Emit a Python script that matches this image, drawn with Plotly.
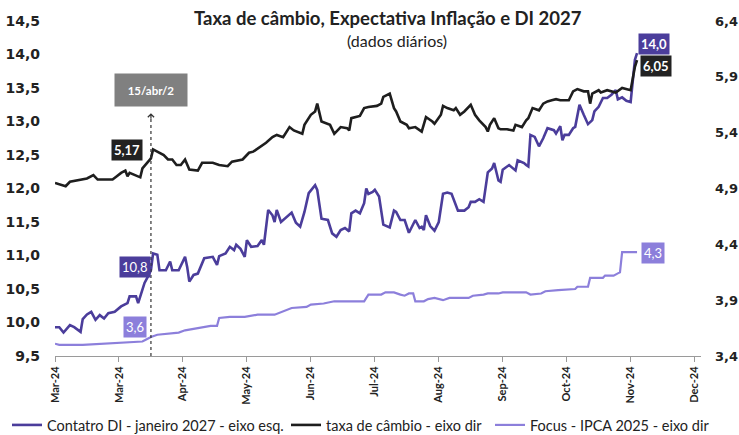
import plotly.graph_objects as go

# ---------------- data ----------------
fx_dates = ["2024-03-01","2024-03-03","2024-03-06","2024-03-08","2024-03-11","2024-03-14","2024-03-16","2024-03-19","2024-03-21","2024-03-24","2024-03-28","2024-03-30","2024-04-01","2024-04-03","2024-04-04","2024-04-05","2024-04-08","2024-04-10","2024-04-11","2024-04-13","2024-04-15","2024-04-16","2024-04-18","2024-04-21","2024-04-23","2024-04-25","2024-04-27","2024-04-29","2024-05-01","2024-05-03","2024-05-07","2024-05-09","2024-05-14","2024-05-17","2024-05-21","2024-05-23","2024-05-28","2024-05-31","2024-06-02","2024-06-05","2024-06-08","2024-06-11","2024-06-13","2024-06-16","2024-06-19","2024-06-21","2024-06-25","2024-06-26","2024-06-29","2024-07-01","2024-07-02","2024-07-04","2024-07-08","2024-07-10","2024-07-13","2024-07-16","2024-07-17","2024-07-18","2024-07-20","2024-07-22","2024-07-24","2024-07-26","2024-07-30","2024-08-01","2024-08-02","2024-08-05","2024-08-07","2024-08-08","2024-08-10","2024-08-13","2024-08-14","2024-08-17","2024-08-20","2024-08-22","2024-08-25","2024-08-26","2024-08-29","2024-08-30","2024-09-01","2024-09-04","2024-09-05","2024-09-07","2024-09-09","2024-09-12","2024-09-14","2024-09-16","2024-09-19","2024-09-20","2024-09-21","2024-09-23","2024-09-25","2024-09-26","2024-09-29","2024-10-02","2024-10-03","2024-10-06","2024-10-08","2024-10-09","2024-10-11","2024-10-14","2024-10-16","2024-10-18","2024-10-20","2024-10-22","2024-10-24","2024-10-26","2024-10-28","2024-10-30","2024-11-01","2024-11-04","2024-11-06","2024-11-07","2024-11-08","2024-11-11","2024-11-12","2024-11-15","2024-11-17","2024-11-19","2024-11-22","2024-11-24","2024-11-26","2024-11-28","2024-11-29"]
fx_values = [4.95,4.94,4.92,4.96,4.97,4.98,4.99,5.02,4.98,4.98,4.98,5.01,5.04,5.06,5.01,5.04,5.02,5.00,5.08,5.13,5.17,5.25,5.23,5.20,5.16,5.16,5.11,5.11,5.16,5.07,5.06,5.13,5.13,5.11,5.10,5.14,5.16,5.22,5.23,5.27,5.31,5.36,5.38,5.36,5.45,5.42,5.39,5.47,5.56,5.59,5.66,5.50,5.47,5.39,5.45,5.44,5.42,5.53,5.54,5.55,5.62,5.63,5.64,5.66,5.72,5.75,5.62,5.59,5.50,5.47,5.44,5.45,5.41,5.54,5.50,5.48,5.56,5.64,5.62,5.60,5.62,5.56,5.59,5.65,5.56,5.51,5.45,5.41,5.47,5.53,5.44,5.43,5.43,5.42,5.47,5.45,5.51,5.53,5.62,5.60,5.66,5.68,5.69,5.70,5.69,5.69,5.69,5.77,5.79,5.77,5.77,5.66,5.75,5.78,5.76,5.78,5.77,5.76,5.80,5.79,5.78,5.99,6.05]

di_dates = ["2024-03-01","2024-03-03","2024-03-05","2024-03-08","2024-03-10","2024-03-13","2024-03-14","2024-03-16","2024-03-18","2024-03-20","2024-03-22","2024-03-24","2024-03-26","2024-03-29","2024-04-01","2024-04-04","2024-04-05","2024-04-08","2024-04-09","2024-04-11","2024-04-12","2024-04-14","2024-04-15","2024-04-16","2024-04-18","2024-04-19","2024-04-22","2024-04-24","2024-04-25","2024-04-28","2024-05-01","2024-05-02","2024-05-03","2024-05-05","2024-05-07","2024-05-10","2024-05-14","2024-05-16","2024-05-17","2024-05-20","2024-05-22","2024-05-24","2024-05-25","2024-05-27","2024-05-29","2024-05-30","2024-06-01","2024-06-04","2024-06-06","2024-06-07","2024-06-09","2024-06-11","2024-06-12","2024-06-13","2024-06-15","2024-06-20","2024-06-22","2024-06-24","2024-06-26","2024-06-28","2024-07-01","2024-07-02","2024-07-04","2024-07-07","2024-07-09","2024-07-11","2024-07-13","2024-07-15","2024-07-17","2024-07-18","2024-07-20","2024-07-22","2024-07-24","2024-07-25","2024-07-26","2024-07-28","2024-07-29","2024-07-31","2024-08-02","2024-08-05","2024-08-07","2024-08-08","2024-08-10","2024-08-12","2024-08-14","2024-08-17","2024-08-19","2024-08-20","2024-08-21","2024-08-22","2024-08-24","2024-08-26","2024-08-28","2024-08-30","2024-09-01","2024-09-03","2024-09-05","2024-09-06","2024-09-09","2024-09-11","2024-09-12","2024-09-14","2024-09-16","2024-09-18","2024-09-20","2024-09-22","2024-09-23","2024-09-25","2024-09-26","2024-09-27","2024-09-30","2024-10-03","2024-10-04","2024-10-07","2024-10-08","2024-10-09","2024-10-10","2024-10-12","2024-10-14","2024-10-16","2024-10-18","2024-10-21","2024-10-22","2024-10-24","2024-10-25","2024-10-26","2024-10-28","2024-10-30","2024-10-31","2024-11-02","2024-11-04","2024-11-06","2024-11-08","2024-11-09","2024-11-11","2024-11-13","2024-11-15","2024-11-17","2024-11-19","2024-11-20","2024-11-22","2024-11-24","2024-11-26","2024-11-28","2024-11-29"]
di_values = [9.93,9.93,9.85,9.96,9.93,9.86,10.05,10.12,10.16,10.04,10.11,10.06,10.14,10.16,10.24,10.29,10.39,10.39,10.29,10.49,10.59,10.71,10.78,11.03,11.01,10.78,10.78,10.91,10.78,10.78,10.98,10.83,10.61,10.71,10.73,10.96,10.98,10.86,10.99,11.03,11.13,11.08,11.16,11.10,10.98,11.23,11.13,11.14,11.23,11.16,11.68,11.60,11.50,11.68,11.50,11.64,11.49,11.43,11.65,11.93,12.05,11.98,11.55,11.53,11.33,11.28,11.38,11.41,11.36,11.63,11.67,11.63,11.78,12.00,11.92,11.95,11.98,11.88,11.46,11.42,11.67,11.65,11.53,11.53,11.34,11.53,11.41,11.43,11.38,11.60,11.44,11.37,11.50,11.92,11.94,11.92,11.73,11.67,11.67,11.72,11.80,11.80,11.84,11.80,12.24,12.30,12.38,12.12,12.10,12.28,12.35,12.27,12.42,12.38,12.35,12.33,12.80,12.77,12.63,12.75,12.90,12.87,12.82,12.93,12.72,12.80,12.80,12.90,12.92,13.25,13.10,12.96,13.02,13.15,13.22,13.35,13.35,13.40,13.47,13.33,13.36,13.31,13.29,13.92,14.02]

focus_dates = ["2024-03-01","2024-03-03","2024-03-14","2024-03-22","2024-03-30","2024-04-07","2024-04-11","2024-04-13","2024-04-15","2024-04-18","2024-04-25","2024-04-28","2024-05-01","2024-05-07","2024-05-13","2024-05-16","2024-05-17","2024-05-22","2024-05-29","2024-06-04","2024-06-12","2024-06-20","2024-06-27","2024-06-29","2024-07-05","2024-07-10","2024-07-24","2024-07-26","2024-08-01","2024-08-03","2024-08-07","2024-08-10","2024-08-12","2024-08-14","2024-08-16","2024-08-17","2024-08-21","2024-08-23","2024-08-26","2024-08-30","2024-09-02","2024-09-11","2024-09-13","2024-09-18","2024-09-20","2024-09-25","2024-09-27","2024-10-08","2024-10-10","2024-10-15","2024-10-17","2024-10-23","2024-10-31","2024-11-01","2024-11-06","2024-11-07","2024-11-13","2024-11-14","2024-11-18","2024-11-20","2024-11-21","2024-11-22","2024-11-29"]
focus_values = [3.51,3.50,3.50,3.51,3.52,3.53,3.53,3.55,3.57,3.59,3.60,3.61,3.63,3.65,3.67,3.67,3.74,3.75,3.75,3.77,3.77,3.83,3.84,3.86,3.87,3.89,3.89,3.95,3.95,3.97,3.97,3.95,3.94,3.96,3.96,3.89,3.89,3.91,3.92,3.90,3.92,3.92,3.94,3.95,3.96,3.96,3.97,3.97,3.95,3.96,3.98,3.99,4.00,4.02,4.02,4.10,4.10,4.12,4.12,4.14,4.15,4.33,4.33]

series_names = ["Contatro DI - janeiro 2027 - eixo esq.", "taxa de câmbio - eixo dir", "Focus - IPCA 2025 - eixo dir"]
left_ticks = [9.5, 10.0, 10.5, 11.0, 11.5, 12.0, 12.5, 13.0, 13.5, 14.0, 14.5]
right_ticks = [3.4, 3.9, 4.4, 4.9, 5.4, 5.9, 6.4]
event_date = "2024-04-15"
event_label = "15/abr/2"

# ---------------- styling ----------------
FONT = "Lato"
TICKFONT = "DejaVu Sans"
C_DI = "#4B3D9B"
C_FX = "#1E1E1E"
C_FOCUS = "#8C7FDB"
C_TXT = "#222222"
W, H = 739, 435

fig = go.Figure()
fig.add_trace(go.Scatter(x=di_dates, y=di_values, name=series_names[0], mode="lines",
                         line=dict(color=C_DI, width=2.6), yaxis="y", legend="legend"))
fig.add_trace(go.Scatter(x=fx_dates, y=fx_values, name=series_names[1], mode="lines",
                         line=dict(color=C_FX, width=2.6), yaxis="y2", legend="legend2"))
fig.add_trace(go.Scatter(x=focus_dates, y=focus_values, name=series_names[2], mode="lines",
                         line=dict(color=C_FOCUS, width=2.2), yaxis="y2", legend="legend3"))

# dotted event line + arrow head
fig.add_shape(type="line", xref="x", yref="paper", x0=event_date, x1=event_date, y0=0, y1=0.722,
              line=dict(color="#333333", width=1.2, dash="dot"))
fig.add_annotation(xref="x", yref="paper", x=event_date, y=0.725, text="", showarrow=True,
                   ax=0, ay=7, arrowhead=4, arrowsize=1, arrowwidth=1.2, arrowcolor="#333333")
fig.add_annotation(xref="x", yref="paper", x=event_date, y=(356 - 90) / 335, text="<b>" + event_label + "</b>",
                   showarrow=False, bgcolor="#808080", xanchor="center", yanchor="middle",
                   font=dict(family=FONT, size=11.5, color="white"),
                   width=66, height=26, borderpad=3)

def lab(x, y, yref, text, color, dx, dy, bold):
    t = "<b>" + text + "</b>" if bold else text
    fig.add_annotation(xref="x", yref=yref, x=x, y=y, text=t, showarrow=False,
                       xanchor="center", yanchor="middle",
                       xshift=dx, yshift=dy, bgcolor=color, borderpad=2,
                       font=dict(family=FONT, size=13, color="white"))

lab(event_date, fx_values[fx_dates.index(event_date)], "y2", "5,17", "#222222", -24, 8, True)
lab(event_date, di_values[di_dates.index(event_date)], "y", "10,8", C_DI, -16, 3, False)
lab(event_date, focus_values[focus_dates.index(event_date)], "y2", "3,6", C_FOCUS, -16, 10, False)
lab(di_dates[-1], di_values[-1], "y", "14,0", C_DI, 17, 9, True)
lab(fx_dates[-1], fx_values[-1], "y2", "6,05", "#222222", 19, -6, True)
lab(focus_dates[-1], focus_values[-1], "y2", "4,3", C_FOCUS, 16, -1, False)

# title
fig.add_annotation(xref="paper", yref="paper", x=0.515, y=(356 - 18) / 335, yanchor="middle",
                   xanchor="center",
                   text="<b>Taxa de câmbio, Expectativa Inflação e DI 2027</b>", showarrow=False,
                   font=dict(family=FONT, size=18.5, color=C_TXT))
fig.add_annotation(xref="paper", yref="paper", x=0.529, y=(356 - 40) / 335, yanchor="middle",
                   xanchor="center",
                   text="(dados diários)", showarrow=False,
                   font=dict(family=FONT, size=16, color=C_TXT))

def leg(xpx):
    return dict(orientation="h", xref="container", yref="container", x=xpx / W, y=(H - 425) / H,
                xanchor="left", yanchor="middle", font=dict(family=FONT, size=14.5, color=C_TXT),
                bgcolor="rgba(0,0,0,0)", itemwidth=30)

fig.update_layout(
    width=W, height=H,
    margin=dict(l=55, r=38, t=21, b=79, autoexpand=False),
    paper_bgcolor="white", plot_bgcolor="white",
    separators=",.",
    font=dict(family=FONT, color=C_TXT),
    showlegend=True,
    legend=leg(7), legend2=leg(286), legend3=leg(490),
    xaxis=dict(type="date", range=["2024-03-01", "2024-12-29"], tick0="2024-03-01",
               dtick=30 * 86400000, tickformat="%b-%y", tickangle=-90, automargin=False,
               showgrid=False, zeroline=False, showline=True, linecolor="#9a9a9a", linewidth=1,
               ticks="outside", ticklen=5, tickcolor="#9a9a9a",
               tickfont=dict(family=FONT, size=11, color=C_TXT, weight="bold")),
    yaxis=dict(range=[9.5, 14.5], tickvals=left_ticks, tickformat=".1f", showgrid=False,
               zeroline=False, showline=False, ticklabelstandoff=14, automargin=False,
               tickfont=dict(family=TICKFONT, size=14, color=C_TXT, weight="bold")),
    yaxis2=dict(range=[3.4, 6.4], tickvals=right_ticks, tickformat=".1f", overlaying="y",
                side="right", showgrid=False, zeroline=False, showline=False, ticklabelstandoff=13,
                automargin=False,
                tickfont=dict(family=TICKFONT, size=13, color=C_TXT, weight="bold")),
)

# remove the browser's default 8px body margin so the figure fills the window exactly
fig.write_html("out.html", config={"displayModeBar": False},
               post_script="document.body.style.margin='0';document.body.style.overflow='hidden';")
